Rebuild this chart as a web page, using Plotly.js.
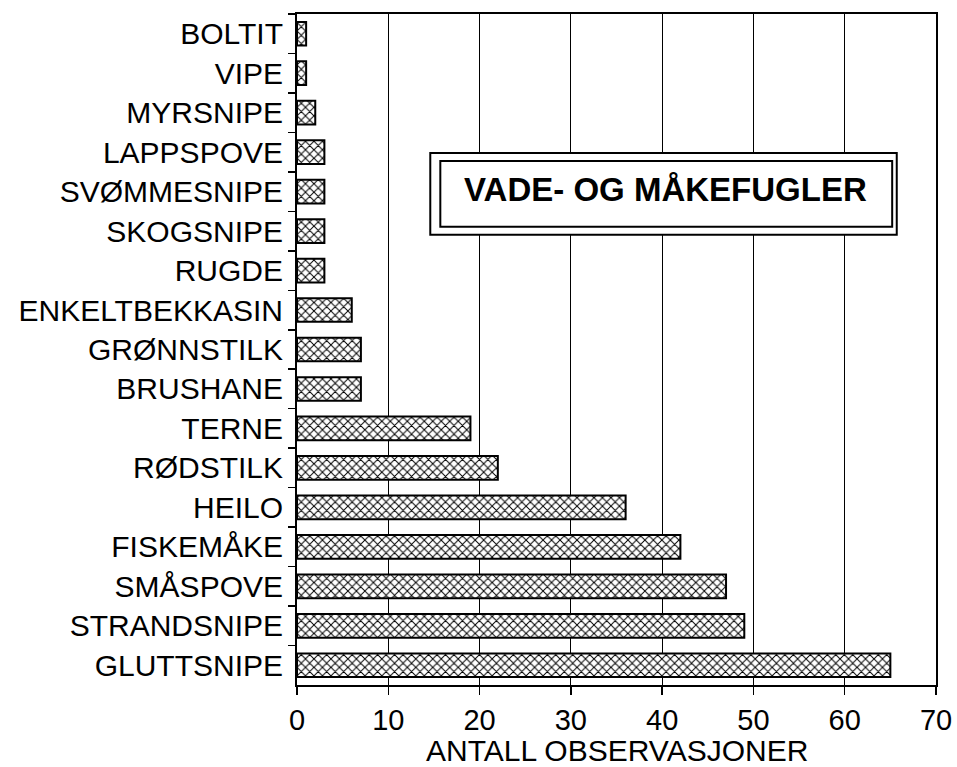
<!DOCTYPE html>
<html>
<head>
<meta charset="utf-8">
<script src="https://cdn.plot.ly/plotly-3.0.1.min.js"></script>
<style>
  html, body { margin: 0; padding: 0; background: #fff; }
  #plot { width: 957px; height: 767px; }
</style>
</head>
<body>
<div id="plot"></div>
<script>
/* Data, top to bottom as in the picture */
const arter = ['BOLTIT', 'VIPE', 'MYRSNIPE', 'LAPPSPOVE', 'SVØMMESNIPE', 'SKOGSNIPE', 'RUGDE',
               'ENKELTBEKKASIN', 'GRØNNSTILK', 'BRUSHANE', 'TERNE', 'RØDSTILK', 'HEILO',
               'FISKEMÅKE', 'SMÅSPOVE', 'STRANDSNIPE', 'GLUTTSNIPE'];
const antall = [1, 1, 2, 3, 3, 3, 3, 6, 7, 7, 19, 22, 36, 42, 47, 49, 65];
const xTicks = [0, 10, 20, 30, 40, 50, 60, 70];

const font = 'Liberation Sans, Arial, Helvetica, sans-serif';

var trace = {
    type: 'bar',
    orientation: 'h',
    x: antall,
    y: arter,
    marker: {
        color: 'white',
        line: {color: 'black', width: 2},
        pattern: {shape: 'x', size: 6, solidity: 0.3, fgcolor: 'black', bgcolor: 'white'}
    },
    hoverinfo: 'x+y'
};

var layout = {
    width: 957,
    height: 767,
    margin: {l: 297, r: 21, t: 14, b: 82},
    paper_bgcolor: 'white',
    plot_bgcolor: 'white',
    bargap: 0.4,
    showlegend: false,
    font: {family: font, color: 'black'},
    xaxis: {
        range: [0, 70],
        tickvals: xTicks,
        ticktext: xTicks.map(String),
        ticks: 'outside',
        ticklen: 8,
        tickwidth: 1.5,
        tickcolor: 'black',
        tickfont: {size: 29, color: 'black'},
        showline: true,
        linecolor: 'black',
        linewidth: 2,
        mirror: true,
        showgrid: true,
        gridcolor: 'black',
        gridwidth: 1,
        zeroline: false,
        automargin: false
    },
    yaxis: {
        autorange: 'reversed',
        type: 'category',
        tickson: 'boundaries',
        ticks: 'outside',
        ticklen: 7,
        tickwidth: 1.5,
        tickcolor: 'black',
        ticklabelstandoff: 6,
        tickfont: {size: 30, color: 'black'},
        showline: true,
        linecolor: 'black',
        linewidth: 2,
        mirror: true,
        showgrid: false,
        automargin: false
    },
    shapes: [
        {type: 'rect', xref: 'x', yref: 'paper', x0: 14.6, x1: 65.7, y0: 0.671, y1: 0.793,
         fillcolor: 'white', line: {color: 'black', width: 2}, layer: 'above'},
        {type: 'rect', xref: 'x', yref: 'paper', x0: 15.7, x1: 65.2, y0: 0.683, y1: 0.781,
         fillcolor: 'white', line: {color: 'black', width: 2}, layer: 'above'}
    ],
    annotations: [
        {text: '<b>VADE- OG MÅKEFUGLER</b>', xref: 'x', yref: 'paper', x: 40.4, y: 0.738,
         showarrow: false, xanchor: 'center', yanchor: 'middle',
         font: {family: font, size: 33, color: 'black'}},
        // x-axis title as an annotation so it can sit right at the bottom edge
        {text: 'ANTALL OBSERVASJONER', xref: 'paper', yref: 'paper', x: 0.5, y: -0.0969,
         showarrow: false, xanchor: 'center', yanchor: 'middle',
         font: {family: font, size: 30, color: 'black'}}
    ]
};

Plotly.newPlot('plot', [trace], layout, {displayModeBar: false, staticPlot: true});
</script>
</body>
</html>
